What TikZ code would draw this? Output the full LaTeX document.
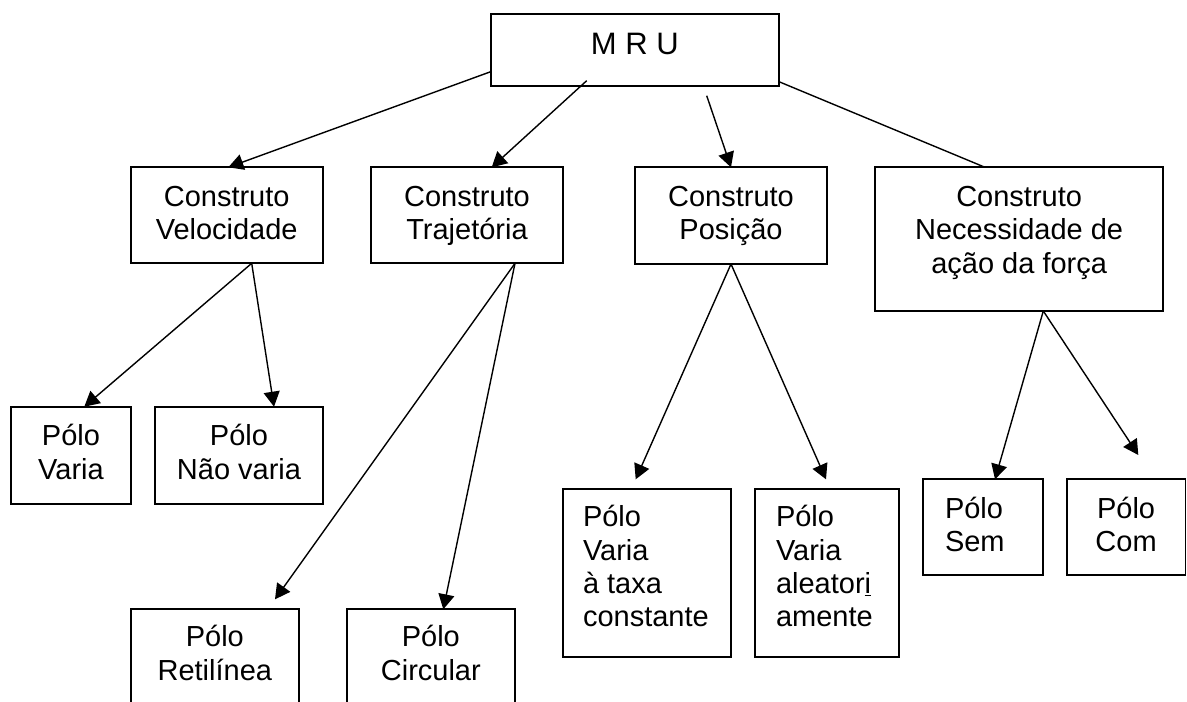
\documentclass[tikz,border=0pt]{standalone}
\usepackage{fontspec}
\setmainfont{Liberation Sans}
\usetikzlibrary{arrows.meta}
\newcommand\ctext[1]{\vtop{\halign{\hfil##\hfil\cr#1\crcr}}}
\newcommand\ltext[1]{\vtop{\halign{##\hfil\cr#1\crcr}}}
\begin{document}
\begin{tikzpicture}[x=1pt,y=-1pt,
  box/.style={draw, line width=1.7pt, rectangle, inner sep=0pt, outer sep=0pt},
  txt/.style={inner sep=0pt, outer sep=0pt, font=\fontsize{29pt}{33.4pt}\selectfont},
  conn/.style={line width=1.4pt, -{Triangle[length=15pt,width=16pt]}},
  plain/.style={line width=1.4pt}]
\useasboundingbox (0,0) rectangle (1187,702);
\fill[white] (0,0) rectangle (1187,702);
\clip (0,0) rectangle (1187,702);

% boxes
\node[box, minimum width=288.3pt, minimum height=72pt] (mru) at (634.85,50) {};
\node[box, minimum width=192pt, minimum height=96pt] (cv) at (226.7,215.3) {};
\node[box, minimum width=192.6pt, minimum height=96pt] (ct) at (467,215.3) {};
\node[box, minimum width=192pt, minimum height=96.7pt] (cp) at (731,215.65) {};
\node[box, minimum width=288.3pt, minimum height=143.7pt] (cn) at (1019.15,239.15) {};
\node[box, minimum width=120.6pt, minimum height=97pt] (pv) at (71,455.2) {};
\node[box, minimum width=168.6pt, minimum height=97pt] (pnv) at (239,455.2) {};
\node[box, minimum width=168.3pt, minimum height=102.7pt] (pr) at (214.85,660.65) {};
\node[box, minimum width=168.3pt, minimum height=102.7pt] (pc) at (430.85,660.65) {};
\node[box, minimum width=168.3pt, minimum height=168pt] (pvt) at (646.85,573) {};
\node[box, minimum width=144pt, minimum height=168pt] (pva) at (827,573) {};
\node[box, minimum width=120.6pt, minimum height=96pt] (ps) at (983,527.3) {};
\node[box, minimum width=118.8pt, minimum height=96pt] (pco) at (1126.1,527.3) {};

% texts
\node[txt, font=\fontsize{31pt}{36pt}\selectfont, anchor=base] (mrux) at (634.85,54) {M R U};
\node[txt, anchor=base] (cvx) at (226.7,206) {\ctext{Construto\cr Velocidade}};
\node[txt, anchor=base] (ctx) at (467,206) {\ctext{Construto\cr Trajetória}};
\node[txt, anchor=base] (cpx) at (731,206) {\ctext{Construto\cr Posição}};
\node[txt, anchor=base] (cnx) at (1019.15,206.5) {\ctext{Construto\cr Necessidade de\cr ação da força}};
\node[txt, anchor=base] (pvx) at (71,445.7) {\ctext{Pólo\cr Varia}};
\node[txt, anchor=base] (pnvx) at (239,445.7) {\ctext{Pólo\cr Não varia}};
\node[txt, anchor=base] (prx) at (214.85,646.7) {\ctext{Pólo\cr Retilínea}};
\node[txt, anchor=base] (pcx) at (430.85,646.7) {\ctext{Pólo\cr Circular}};
\node[txt, anchor=base west] (pvtx) at (583,526.7) {\ltext{Pólo\cr Varia\cr à taxa\cr constante}};
\node[txt, anchor=base west] (pvax) at (776,526.7) {\ltext{Pólo\cr Varia\cr aleator\underline{i}\cr amente}};
\node[txt, anchor=base west] (psx) at (945,518.3) {\ltext{Pólo\cr Sem}};
\node[txt, anchor=base] (pcox) at (1126.1,518.3) {\ctext{Pólo\cr Com}};

% connectors
\draw[conn] ([yshift=14.3pt]mru.south west) -- ([xshift=1.6pt]cv.north);
\draw[conn] ([shift={(-48.15pt,5.3pt)}]mru.south) -- ([xshift=24.7pt]ct.north);
\draw[conn] ([shift={(71.85pt,-9.7pt)}]mru.south) -- (cp.north);
\draw[plain] ([yshift=4.3pt]mru.south east) -- ([xshift=-34.15pt]cn.north);
\draw[conn] ([xshift=25pt]cv.south) -- ([xshift=13.3pt]pv.north);
\draw[conn] ([xshift=25pt]cv.south) -- ([xshift=35pt]pnv.north);
\draw[conn] ([xshift=48pt]ct.south) -- ([shift={(60.15pt,10pt)}]pr.north);
\draw[conn] ([xshift=48pt]ct.south) -- ([xshift=12.45pt]pc.north);
\draw[conn] (cp.south) -- ([shift={(-11.15pt,9.7pt)}]pvt.north);
\draw[conn] (cp.south) -- ([shift={(-1pt,9.7pt)}]pva.north);
\draw[conn] ([xshift=24.15pt]cn.south) -- ([xshift=12pt]ps.north);
\draw[conn] ([xshift=24.15pt]cn.south) -- ([shift={(12.2pt,24.3pt)}]pco.north);
\end{tikzpicture}
\end{document}
